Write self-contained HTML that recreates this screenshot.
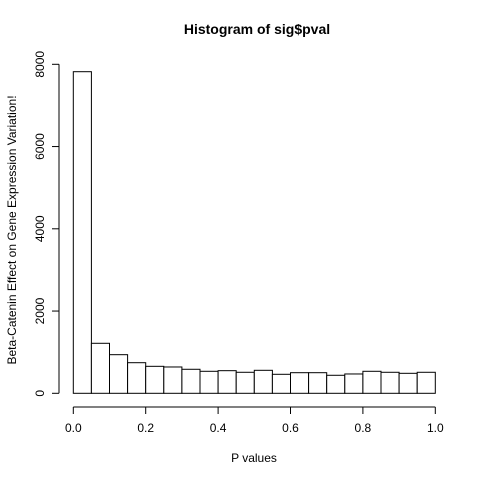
<!DOCTYPE html>
<html><head><meta charset="utf-8"><style>body{margin:0;background:#fff}svg{display:block}text{font-family:"Liberation Sans",sans-serif;fill:#000}</style></head>
<body>
<svg id="c" width="480" height="480">
<text x="257" y="34" text-anchor="middle" font-size="14" font-weight="bold">Histogram of sig$pval</text>
<text x="254" y="462" text-anchor="middle" font-size="12">P values</text>
<text transform="translate(16,230) rotate(-90)" text-anchor="middle" font-size="12">Beta-Catenin Effect on Gene Expression Variation!</text>
<g id="bars"></g><g id="ax"></g>
</svg>
<script>
const binStarts=[0,0.05,0.1,0.15,0.2,0.25,0.3,0.35,0.4,0.45,0.5,0.55,0.6,0.65,0.7,0.75,0.8,0.85,0.9,0.95];
const counts=[7820,1216,939,744,656,640,584,535,550,511,559,462,501,501,438,470,535,511,486,511];
const xTicks=[0,0.2,0.4,0.6,0.8,1.0];
const xTickLabels=["0.0","0.2","0.4","0.6","0.8","1.0"];
const yTicks=[0,2000,4000,6000,8000];
const yTickLabels=["0","2000","4000","6000","8000"];
const NS="http://www.w3.org/2000/svg";
const X=v=>73.3+v*362;
const Y=v=>393.3-v*329/8000;
function mk(t,a,p){const e=document.createElementNS(NS,t);for(const k in a)e.setAttribute(k,a[k]);p.appendChild(e);return e;}
const bars=document.getElementById('bars'),ax=document.getElementById('ax');
binStarts.forEach((b,i)=>{
 const r=mk('rect',{x:X(b),y:Y(counts[i]),width:X(b+0.05)-X(b),height:Y(0)-Y(counts[i]),fill:'#fff',stroke:'#000','stroke-width':1},bars);
 
 
});
const xl=mk('line',{x1:X(0),x2:X(1),y1:407,y2:407,stroke:'#000'},ax);


xTicks.forEach((t,i)=>{
 mk('line',{x1:X(t),x2:X(t),y1:407,y2:414,stroke:'#000'},ax);
 const tx=mk('text',{x:X(t),y:432,'text-anchor':'middle','font-size':12},ax);tx.textContent=xTickLabels[i];
 
 
});
const yl=mk('line',{x1:59,x2:59,y1:Y(0),y2:Y(8000),stroke:'#000'},ax);


yTicks.forEach((t,i)=>{
 mk('line',{x1:52,x2:59,y1:Y(t),y2:Y(t),stroke:'#000'},ax);
 const tx=mk('text',{transform:`translate(44,${Y(t)}) rotate(-90)`,'text-anchor':'middle','font-size':12},ax);tx.textContent=yTickLabels[i];
 
 
});
</script>
</body></html>
